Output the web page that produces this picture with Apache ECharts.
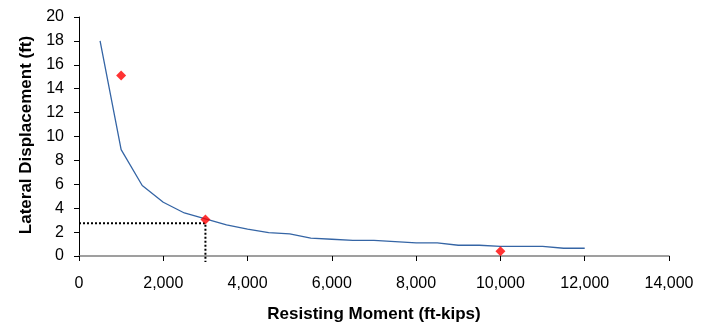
<!DOCTYPE html>
<html>
<head>
<meta charset="utf-8">
<script src="https://cdn.jsdelivr.net/npm/echarts@6/dist/echarts.min.js"></script>
<style>
  html, body { margin: 0; padding: 0; background: #fff; }
  #chart { width: 714px; height: 328px; }
</style>
</head>
<body>
<div id="chart"></div>
<script>
// curve
const curveX = [500, 1000, 1500, 2000, 2500, 3000, 3500, 4000, 4500, 5000, 5500, 6000, 6500, 7000, 7500, 8000, 8500, 9000, 9500, 10000, 10500, 11000, 11500, 12000];
const curveY = [18, 8.9, 5.9, 4.5, 3.6, 3.1, 2.6, 2.25, 1.95, 1.85, 1.5, 1.4, 1.3, 1.3, 1.2, 1.1, 1.1, 0.9, 0.9, 0.8, 0.8, 0.8, 0.65, 0.65];
// red points
const pointX = [1000, 3000, 10000];
const pointY = [15.1, 3.05, 0.4];
// dotted guide
const guideX = [0, 3000, 3000];
const guideY = [2.75, 2.75, -0.5];

const zip = (a, b) => a.map((v, i) => [v, b[i]]);

const chart = echarts.init(document.getElementById('chart'));
chart.setOption({
  animation: false,
  textStyle: { fontFamily: 'Liberation Sans, Arial, sans-serif' },
  grid: { left: 79, right: 45, top: 17, bottom: 72 },
  xAxis: {
    type: 'value',
    min: 0,
    max: 14000,
    interval: 2000,
    name: 'Resisting Moment (ft-kips)',
    nameLocation: 'middle',
    nameGap: 50,
    nameTextStyle: { fontWeight: 'bold', fontSize: 17, color: '#000' },
    axisLine: { lineStyle: { color: '#808080', width: 1.5 } },
    axisTick: { show: true, length: 5, lineStyle: { color: '#000' } },
    axisLabel: {
      color: '#000', fontSize: 16, margin: 20,
      formatter: v => v.toLocaleString('en-US')
    },
    splitLine: { show: false }
  },
  yAxis: {
    type: 'value',
    min: 0,
    max: 20,
    interval: 2,
    name: 'Lateral Displacement (ft)',
    nameLocation: 'middle',
    nameGap: 43,
    nameTextStyle: { fontWeight: 'bold', fontSize: 17, color: '#000', padding: [0, 0, 0, 3] },
    axisLine: { show: true, lineStyle: { color: '#000', width: 1 } },
    axisTick: { show: true, length: 5, lineStyle: { color: '#000' } },
    axisLabel: { color: '#000', fontSize: 16, margin: 15 },
    splitLine: { show: false }
  },
  series: [
    {
      type: 'line',
      data: zip(curveX, curveY),
      symbol: 'none',
      lineStyle: { color: '#3565a5', width: 1.3 }
    },
    {
      type: 'line',
      data: zip(guideX, guideY),
      symbol: 'none',
      clip: false,
      lineStyle: { color: '#000', width: 2, type: [2, 2] },
      z: 3
    },
    {
      type: 'scatter',
      data: zip(pointX, pointY),
      symbol: 'diamond',
      symbolSize: 10,
      itemStyle: { color: '#ff0000' },
      z: 4
    }
  ]
});
</script>
</body>
</html>
